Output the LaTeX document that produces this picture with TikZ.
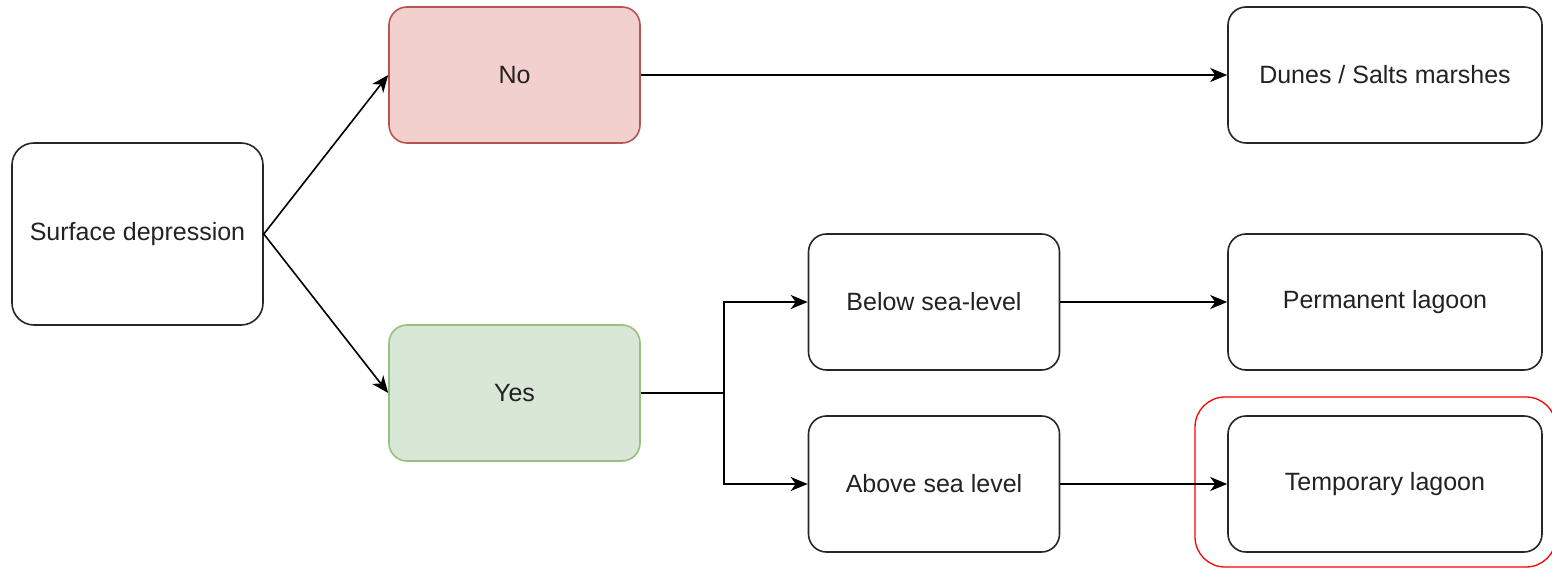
\documentclass[tikz,border=0pt]{standalone}
\usepackage{fontspec}
\setmainfont{Liberation Sans}
\usetikzlibrary{arrows.meta}
\definecolor{nofill}{HTML}{F2D0CE}
\definecolor{nodraw}{HTML}{B85450}
\definecolor{yesfill}{HTML}{D9E7D6}
\definecolor{yesdraw}{HTML}{97C17A}
\definecolor{txt}{HTML}{222222}
\begin{document}
\begin{tikzpicture}[x=1pt,y=-1pt,
  box/.style={draw=black!85, line width=1.6pt, rounded corners=18pt, fill=white,
    minimum width=251pt, minimum height=136pt, inner sep=0pt, align=center,
    font=\fontsize{25}{29}\selectfont, text=txt},
  widebox/.style={box, minimum width=314pt},
  conn/.style={line width=1.6pt, draw=black, -{Stealth[length=17pt,width=14pt,inset=5pt]}},
  plain/.style={line width=1.6pt, draw=black}]
\useasboundingbox (0,0) rectangle (1552,569);
\node[box, minimum height=182pt, rounded corners=22pt] (sd) at (137.5,234) {Surface depression};
\node[box, fill=nofill, draw=nodraw] (no) at (514.5,75) {No};
\node[box, fill=yesfill, draw=yesdraw] (yes) at (514.5,393) {Yes};
\node[box] (below) at (934,302) {Below sea-level};
\node[box] (above) at (934,484) {Above sea level};
\node[widebox] (dunes) at (1385,75) {Dunes / Salts marshes};
\node[widebox] (perm) at (1385,302) {Permanent lagoon};
\node[widebox] (temp) at (1385,484) {Temporary lagoon};
\draw[red, line width=1.3pt, rounded corners=30pt] (1195,397) rectangle (1556,567);
\coordinate (split) at (724,393);
\draw[conn] (sd.east) -- (no.west);
\draw[conn] (sd.east) -- (yes.west);
\draw[conn] (no.east) -- (dunes.west);
\draw[plain] (yes.east) -- (split);
\draw[conn] (split) |- (below.west);
\draw[conn] (split) |- (above.west);
\draw[conn] (below.east) -- (perm.west);
\draw[conn] (above.east) -- (temp.west);
\end{tikzpicture}
\end{document}
